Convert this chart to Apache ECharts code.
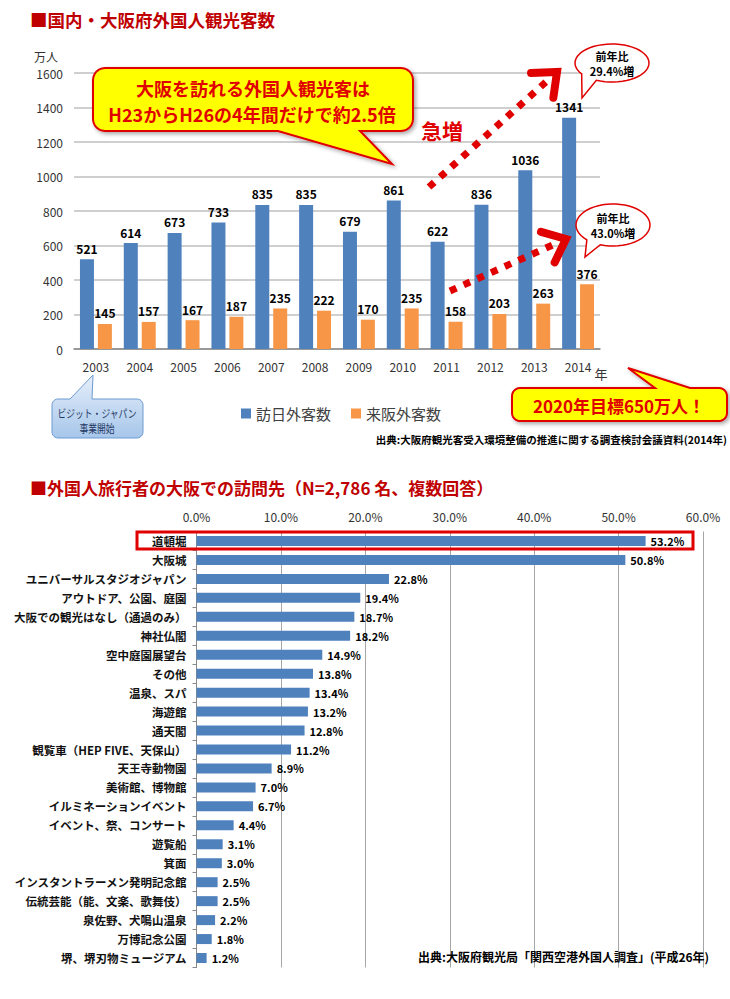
<!DOCTYPE html>
<html>
<head>
<meta charset="utf-8">
<script src="https://cdn.jsdelivr.net/npm/echarts@6/dist/echarts.min.js"></script>
<style>
html,body{margin:0;padding:0;background:#fff;}
#c{width:730px;height:999px;}
</style>
</head>
<body>
<div id="c"></div>
<script>
// ---- Data ----
const years = ['2003','2004','2005','2006','2007','2008','2009','2010','2011','2012','2013','2014'];
const visitorsJapan = [521,614,673,733,835,835,679,861,622,836,1036,1341];
const visitorsOsaka = [145,157,167,187,235,222,170,235,158,203,263,376];
const seriesNames = ['訪日外客数','来阪外客数'];
const yTicks1 = [0,200,400,600,800,1000,1200,1400,1600];

const destinations = ['道頓堀','大阪城','ユニバーサルスタジオジャパン','アウトドア、公園、庭園','大阪での観光はなし（通過のみ）','神社仏閣','空中庭園展望台','その他','温泉、スパ','海遊館','通天閣','観覧車（HEP FIVE、天保山）','天王寺動物園','美術館、博物館','イルミネーションイベント','イベント、祭、コンサート','遊覧船','箕面','インスタントラーメン発明記念館','伝統芸能（能、文楽、歌舞伎）','泉佐野、犬鳴山温泉','万博記念公園','堺、堺刃物ミュージアム'];
const destinationPct = [53.2,50.8,22.8,19.4,18.7,18.2,14.9,13.8,13.4,13.2,12.8,11.2,8.9,7.0,6.7,4.4,3.1,3.0,2.5,2.5,2.2,1.8,1.2];
const xTicks2 = [0,10,20,30,40,50,60];

const FONT = "'Noto Sans CJK JP', 'Noto Sans', sans-serif";
const RED = '#e00000';

function txt(x, y, text, size, color, weight, align, sx) {
  return {
    type: 'text', x: x, y: y, z: 120, scaleX: sx || 1,
    style: {
      text: text, fill: color, fontSize: size, fontWeight: weight || 'normal',
      fontFamily: FONT, align: align || 'center', verticalAlign: 'middle',
      textAlign: align || 'center', textVerticalAlign: 'middle'
    }
  };
}
function arcPts(cx, cy, rx, ry, a0, a1, n) {
  const pts = [];
  for (let i = 0; i <= n; i++) {
    const a = (a0 + (a1 - a0) * i / n) * Math.PI / 180;
    pts.push([cx + rx * Math.cos(a), cy + ry * Math.sin(a)]);
  }
  return pts;
}
// rounded rectangle with a speech tail on top or bottom edge
function bubbleRect(x, y, w, h, r, tail) {
  let pts = [];
  pts.push([x + r, y]);
  if (tail && tail.edge === 'top') { pts.push([tail.a, y], tail.tip, [tail.b, y]); }
  pts.push([x + w - r, y]);
  pts = pts.concat(arcPts(x + w - r, y + r, r, r, -90, 0, 6));
  pts = pts.concat(arcPts(x + w - r, y + h - r, r, r, 0, 90, 6));
  if (tail && tail.edge === 'bottom') { pts.push([tail.b, y + h], tail.tip, [tail.a, y + h]); }
  pts = pts.concat(arcPts(x + r, y + h - r, r, r, 90, 180, 6));
  pts = pts.concat(arcPts(x + r, y + r, r, r, 180, 270, 6));
  return pts;
}
function bubbleOval(cx, cy, rx, ry, aStart, aEnd, tip) {
  let pts = arcPts(cx, cy, rx, ry, aEnd, aStart + 360, 48);
  pts.push(tip);
  return pts;
}
function poly(points, style, z) {
  return { type: 'polygon', z: z || 110, shape: { points: points }, style: style };
}
function arrow(x1, y1, x2, y2) {
  const ang = Math.atan2(y2 - y1, x2 - x1);
  const back = ang + Math.PI;
  const L = 26, spread = 40 * Math.PI / 180;
  const a1 = [x2 + L * Math.cos(back - spread), y2 + L * Math.sin(back - spread)];
  const a2 = [x2 + L * Math.cos(back + spread), y2 + L * Math.sin(back + spread)];
  const ex = x2 - 14 * Math.cos(ang), ey = y2 - 14 * Math.sin(ang);
  return [
    { type: 'line', z: 105, shape: { x1: x1, y1: y1, x2: ex, y2: ey },
      style: { stroke: RED, lineWidth: 7, lineDash: [7, 8], lineCap: 'butt' } },
    { type: 'polyline', z: 105, shape: { points: [a1, [x2, y2], a2] },
      style: { stroke: RED, lineWidth: 8, fill: null, lineJoin: 'miter', lineCap: 'round' } }
  ];
}

const shadow = { shadowBlur: 4, shadowColor: 'rgba(0,0,0,0.35)', shadowOffsetX: 2, shadowOffsetY: 2 };
const graphics = [];
// Callout 1 (yellow speech bubble)
graphics.push(poly(bubbleRect(93, 68, 320, 63, 12, { edge: 'bottom', a: 278, b: 360, tip: [392, 164] }),
  Object.assign({ fill: '#ffff00', stroke: RED, lineWidth: 2 }, shadow)));
graphics.push(txt(253, 88, '大阪を訪れる外国人観光客は', 18, RED, 'bold'));
graphics.push(txt(252, 114, 'H23からH26の4年間だけで約2.5倍', 18, RED, 'bold'));
graphics.push(txt(442, 130, '急増', 21, RED, 'bold'));
// arrows
arrow(429, 187, 557, 72).forEach(e => graphics.push(e));
arrow(450, 291, 566, 239).forEach(e => graphics.push(e));
// oval 1
graphics.push(poly(bubbleOval(612, 63, 37, 19, 115, 145, [582, 98]), { fill: '#fff', stroke: RED, lineWidth: 1.5 }));
graphics.push(txt(612, 56, '前年比', 11, '#000', 'bold'));
graphics.push(txt(612, 71, '29.4%増', 11, '#000', 'bold'));
// oval 2
graphics.push(poly(bubbleOval(613, 225, 37, 21, 110, 135, [585, 257]), { fill: '#fff', stroke: RED, lineWidth: 1.5 }));
graphics.push(txt(613, 218, '前年比', 11, '#000', 'bold'));
graphics.push(txt(613, 233, '43.0%増', 11, '#000', 'bold'));
// axis unit labels
graphics.push(txt(46, 56, '万人', 12, '#333'));
graphics.push(txt(601, 373, '年', 13, '#333'));
// blue callout
graphics.push(poly(bubbleRect(52, 399, 91, 39, 6, { edge: 'top', a: 70, b: 92, tip: [93, 375] }),
  { stroke: '#6d9bd1', lineWidth: 1,
    fill: { type: 'linear', x: 0, y: 0, x2: 0, y2: 1, colorStops: [{ offset: 0, color: '#e6effa' }, { offset: 1, color: '#a6c6ea' }] } }));
graphics.push(txt(97, 413, 'ビジット・ジャパン', 11, '#1f3864', 'normal', 'center', 0.8));
graphics.push(txt(97, 428, '事業開始', 11, '#1f3864', 'normal', 'center', 0.8));
// yellow 2020 callout
graphics.push(poly(bubbleRect(512, 388, 215, 33, 8, { edge: 'top', a: 655, b: 690, tip: [628, 368] }),
  Object.assign({ fill: '#ffff00', stroke: RED, lineWidth: 2 }, shadow)));
graphics.push(txt(619, 405, '2020年目標650万人！', 17, RED, 'bold'));
// source 1
graphics.push(txt(727, 439, '出典:大阪府観光客受入環境整備の推進に関する調査検討会議資料(2014年)', 10.5, '#000', 'bold', 'right'));
// red highlight rectangle
graphics.push({ type: 'rect', z: 115, shape: { x: 137, y: 532, width: 556, height: 17 },
  style: { fill: null, stroke: RED, lineWidth: 3 } });
// source 2
graphics.push(txt(418, 956, '出典:大阪府観光局「関西空港外国人調査」(平成26年)', 12, '#000', 'bold', 'left'));

const chart = echarts.init(document.getElementById('c'), null, { renderer: 'svg', width: 730, height: 999 });
chart.setOption({
  animation: false,
  backgroundColor: '#fff',
  textStyle: { fontFamily: FONT },
  title: [
    { text: '■国内・大阪府外国人観光客数', left: 25, top: 6,
      textStyle: { color: '#c00000', fontSize: 17.5, fontWeight: 'bold', fontFamily: FONT } },
    { text: '■外国人旅行者の大阪での訪問先（N=2,786 名、複数回答）', left: 25, top: 474,
      textStyle: { color: '#c00000', fontSize: 17, fontWeight: 'bold', fontFamily: FONT } }
  ],
  legend: {
    data: seriesNames, left: 236, top: 401, itemWidth: 10, itemHeight: 10, itemGap: 20,
    icon: 'rect', textStyle: { fontSize: 15, color: '#404040', fontFamily: FONT }
  },
  grid: [
    { left: 74, top: 73, width: 526, height: 276 },
    { left: 196.5, top: 531.5, width: 506.5, height: 436 }
  ],
  xAxis: [
    { gridIndex: 0, type: 'category', data: years,
      axisLine: { lineStyle: { color: '#888', width: 1.5 } }, axisTick: { show: false },
      axisLabel: { fontSize: 12, color: '#333', margin: 11 } },
    { gridIndex: 1, type: 'value', position: 'top', min: xTicks2[0], max: xTicks2[xTicks2.length - 1], interval: 10,
      axisLine: { show: false }, axisTick: { show: false },
      axisLabel: { fontSize: 12, color: '#333', margin: 9, formatter: v => v.toFixed(1) + '%' },
      splitLine: { lineStyle: { color: '#a6a6a6', width: 1 } } }
  ],
  yAxis: [
    { gridIndex: 0, type: 'value', min: yTicks1[0], max: yTicks1[yTicks1.length - 1], interval: 200,
      axisLine: { show: false }, axisTick: { show: false },
      axisLabel: { fontSize: 12, color: '#333', margin: 11, formatter: v => String(v) },
      splitLine: { lineStyle: { color: '#bfbfbf', width: 1.5 } } },
    { gridIndex: 1, type: 'category', data: destinations, inverse: true,
      axisLine: { lineStyle: { color: '#888' } },
      axisTick: { show: true, length: 4, lineStyle: { color: '#888' } },
      axisLabel: { fontSize: 11.5, color: '#111', fontWeight: 'bold', margin: 10 } }
  ],
  series: [
    { name: seriesNames[0], type: 'bar', xAxisIndex: 0, yAxisIndex: 0, data: visitorsJapan,
      barWidth: 14, barGap: '28%', itemStyle: { color: '#4f81bd' },
      label: { show: true, position: 'top', distance: 5, fontSize: 12, fontWeight: 'bold', color: '#000' } },
    { name: seriesNames[1], type: 'bar', xAxisIndex: 0, yAxisIndex: 0, data: visitorsOsaka,
      barWidth: 14, barGap: '28%', itemStyle: { color: '#f79646' },
      label: { show: true, position: 'top', distance: 5, fontSize: 12, fontWeight: 'bold', color: '#000' } },
    { name: 'destinations', type: 'bar', xAxisIndex: 1, yAxisIndex: 1, data: destinationPct,
      barWidth: 10, itemStyle: { color: '#4f81bd' },
      label: { show: true, position: 'right', distance: 5, fontSize: 11, fontWeight: 'bold', color: '#000',
        formatter: p => p.value.toFixed(1) + '%' } }
  ],
  graphic: graphics
});
</script>
</body>
</html>
